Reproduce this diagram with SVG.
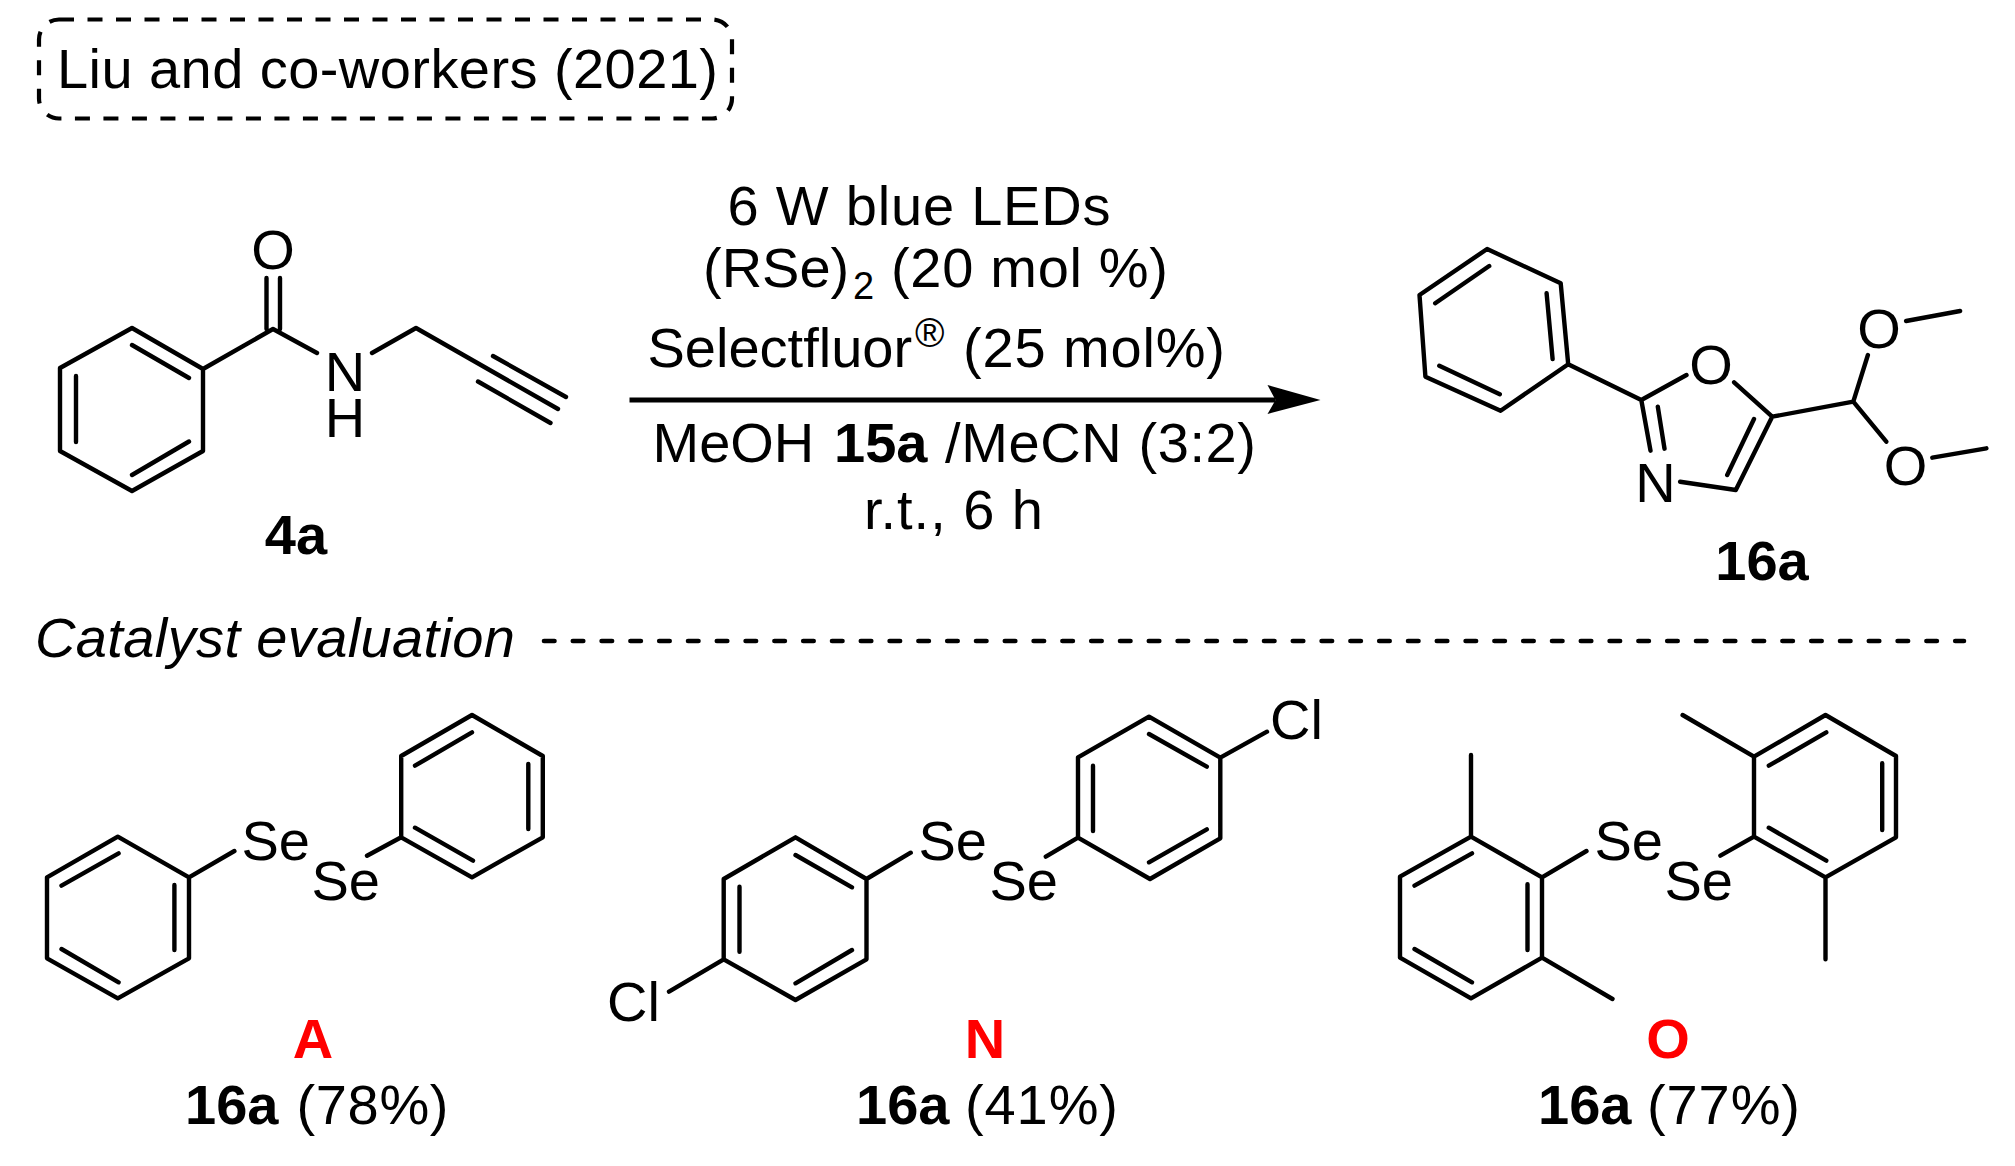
<svg xmlns="http://www.w3.org/2000/svg" width="2015" height="1166" viewBox="0 0 2015 1166">
<style>
text{font-family:"Liberation Sans",Arial,sans-serif;font-size:56px;fill:#000}
.b{font-weight:700}
.r{font-weight:700;fill:#f00}
.m{text-anchor:middle}
.bond{fill:none;stroke:#000;stroke-width:4.4;stroke-linecap:round;stroke-linejoin:round}
</style>
<defs>
<marker id="head" markerUnits="userSpaceOnUse" markerWidth="60" markerHeight="32" refX="8" refY="15" orient="auto" overflow="visible">
<path d="M0 0L53 15L0 29L8 15Z" fill="#000"/>
</marker>
</defs>
<rect width="2015" height="1166" fill="#fff"/>
<g id="title">
<rect x="39" y="19.5" width="693" height="99" rx="20" fill="none" stroke="#000" stroke-width="4.2" stroke-dasharray="15 13.5"/>
<text x="57" y="87.5" textLength="661">Liu and co-workers (2021)</text>
</g>
<g id="mol-4a">
<path class="bond" d="M132 328L203 369V451L132 491L60 451V368ZM132 345L189 378M76 376V442M132 475L189 441.5M203 369L273 329L317 353M266.5 278V329M280 278V329M372 353L416 328L558 409M493 356L566 397M478 381.5L550.5 423"/>
<text x="273" y="269" class="m">O</text>
<text x="345" y="391" class="m">N</text>
<text x="345" y="437" class="m">H</text>
<text x="296" y="554" class="b m">4a</text>
</g>
<g id="conditions">
<text x="727.5" y="225" textLength="383">6 W blue LEDs</text>
<text x="703" y="287">(RSe)</text>
<text x="853" y="299" style="font-size:38px">2</text>
<text x="891" y="287" textLength="277">(20 mol %)</text>
<text x="647.5" y="367">Selectfluor</text>
<text x="915" y="347" style="font-size:40px">®</text>
<text x="963" y="367" textLength="262">(25 mol%)</text>
<text x="652.5" y="462">MeOH</text>
<text x="834" y="462" class="b">15a</text>
<text x="945" y="462" textLength="311">/MeCN (3:2)</text>
<text x="864" y="529" textLength="179">r.t., 6 h</text>
</g>
<g id="mol-16a">
<path class="bond" d="M1487.1 249L1560.7 283.3L1568.2 364.3L1500.6 410.7L1425.4 376.7L1419.5 295ZM1489.2 266L1435.2 303.3M1546.6 293.3L1552.6 359M1439.3 365.7L1499.8 394.3M1568.2 364.3L1641.3 400L1686.5 375M1734.1 382.3L1772.2 416.7L1735.8 490L1680.1 481.7M1754 419L1727.2 475M1641.3 400L1650.5 450.7M1657.8 406.7L1664.5 448.7M1772.2 416.7L1853.3 401.7L1867.9 355M1906.1 321L1960.1 311M1853.3 401.7L1886.3 441.7M1932.3 457.7L1986.4 448.3"/>
<text x="1711" y="383.5" class="m">O</text>
<text x="1655.5" y="501.7" class="m">N</text>
<text x="1879" y="347.5" class="m">O</text>
<text x="1905.5" y="484.5" class="m">O</text>
<text x="1762" y="580" class="b m">16a</text>
</g>
<g id="catalyst-label">
<text x="35" y="657" style="font-style:italic" textLength="480">Catalyst evaluation</text>
</g>
<g id="catalyst-A">
<path class="bond" d="M117.8 836.7L189 877.3V958.3L117.8 998.3L47 958.3V877.3ZM118.6 853.3L61.5 885.7M174.4 885V950M61.5 949L118.6 982.3M189 877.3L234.4 851M367 855.7L401.2 837.3V756L472 715L542.8 756V837.3L472 877.3L401.2 837.3M415 765.7L472 732.3M528.3 764V829M415 827.7L473 860.7"/>
<text x="241.5" y="860">Se</text>
<text x="311.5" y="900">Se</text>
<text x="313" y="1058" class="r m">A</text>
<text x="185" y="1124" class="b">16a</text>
<text x="296.5" y="1124" textLength="152">(78%)</text>
</g>
<g id="catalyst-N">
<path class="bond" d="M795.5 837.3L866.5 879V959.3L795.5 1000L723.7 959.3V879ZM795.5 855L852 887.3M739.5 886.7V951.7M795.5 983.3L852 950M723.7 959.3L669 991.7M866.5 879L910.7 852.7M1045.8 856.7L1078 837.7V757.3L1149 716.7L1220.3 757.7V838.3L1150 879L1078 837.7M1093 765.7V831M1149 734L1206.8 766.7M1206.8 829.3L1149 862.3M1220.3 757.7L1267 731.7"/>
<text x="607" y="1021">Cl</text>
<text x="1270" y="739">Cl</text>
<text x="918.5" y="860">Se</text>
<text x="989.5" y="900">Se</text>
<text x="985" y="1058" class="r m">N</text>
<text x="856" y="1124" class="b">16a</text>
<text x="965" y="1124" textLength="153">(41%)</text>
</g>
<g id="catalyst-O">
<path class="bond" d="M1471 836.7L1542 877.3V957.7L1471 998.3L1400 957.7V876.7ZM1472 853.3L1414.5 885.7M1527.5 884.3V950M1414.5 949L1472 982.3M1471 836.7V755M1542 957.7L1612.5 999M1542 877.3L1586.5 851M1720.4 855.7L1754 836.7V756.7L1825.5 715L1896 756V837.3L1825.5 877.3L1754 836.7M1768.8 765.7L1826.3 732.3M1882.2 763.3V830M1768.8 827.7L1826.3 860.7M1754 756.7L1682.6 715M1825.5 877.3V959.3"/>
<text x="1594.5" y="860">Se</text>
<text x="1664.5" y="900">Se</text>
<text x="1668" y="1058" class="r m">O</text>
<text x="1538" y="1124" class="b">16a</text>
<text x="1647" y="1124" textLength="153">(77%)</text>
</g>
<g id="connectors">
<line x1="629.5" y1="400" x2="1275.5" y2="400" stroke="#000" stroke-width="5" marker-end="url(#head)"/>
<line x1="544" y1="641" x2="1964" y2="641" stroke="#000" stroke-width="4.6" stroke-dasharray="10.5 18.3" stroke-linecap="round"/>
</g>
</svg>
